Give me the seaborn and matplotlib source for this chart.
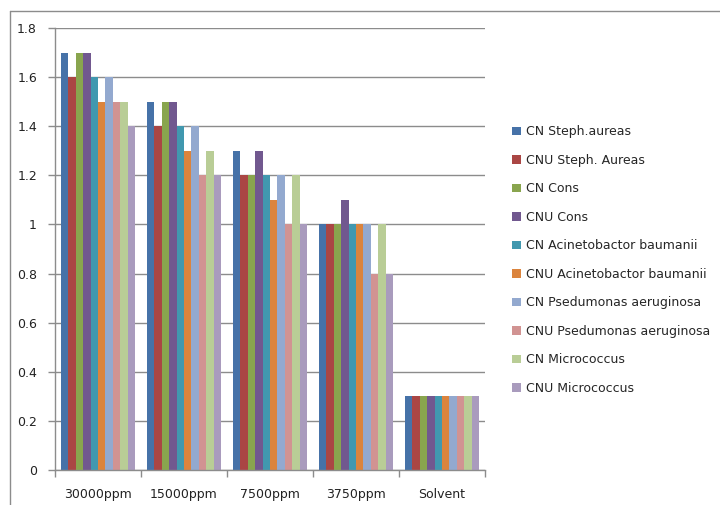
import matplotlib
matplotlib.use("Agg")
import matplotlib.pyplot as plt
from matplotlib.lines import Line2D
from matplotlib.ticker import FixedLocator, FuncFormatter
import numpy as np
import pandas as pd
import seaborn as sns

# Concentrations on the x axis
concentrations = ["30000ppm", "15000ppm", "7500ppm", "3750ppm", "Solvent"]

# One series per extract / organism pair
series_names = [
    "CN Steph.aureas",
    "CNU Steph. Aureas",
    "CN Cons",
    "CNU Cons",
    "CN Acinetobactor baumanii",
    "CNU Acinetobactor baumanii",
    "CN Psedumonas aeruginosa",
    "CNU Psedumonas aeruginosa",
    "CN Micrococcus",
    "CNU Micrococcus",
]

cn_steph = [1.7, 1.5, 1.3, 1.0, 0.3]
cnu_steph = [1.6, 1.4, 1.2, 1.0, 0.3]
cn_cons = [1.7, 1.5, 1.2, 1.0, 0.3]
cnu_cons = [1.7, 1.5, 1.3, 1.1, 0.3]
cn_acineto = [1.6, 1.4, 1.2, 1.0, 0.3]
cnu_acineto = [1.5, 1.3, 1.1, 1.0, 0.3]
cn_pseudo = [1.6, 1.4, 1.2, 1.0, 0.3]
cnu_pseudo = [1.5, 1.2, 1.0, 0.8, 0.3]
cn_micro = [1.5, 1.3, 1.2, 1.0, 0.3]
cnu_micro = [1.4, 1.2, 1.0, 0.8, 0.3]

series_values = [
    cn_steph, cnu_steph, cn_cons, cnu_cons, cn_acineto,
    cnu_acineto, cn_pseudo, cnu_pseudo, cn_micro, cnu_micro,
]

y_ticks = [0, 0.2, 0.4, 0.6, 0.8, 1.0, 1.2, 1.4, 1.6, 1.8]

colors = [
    "#4672A8", "#AA4644", "#89A54E", "#71588F", "#4198AF",
    "#DB843D", "#93A9CF", "#D19392", "#B9CD96", "#A99BBD",
]

rows = []
for name, vals in zip(series_names, series_values):
    for conc, v in zip(concentrations, vals):
        rows.append({"Concentration": conc, "Series": name, "Value": v})
df = pd.DataFrame(rows)

sns.set_theme(style="white")
plt.rcParams["font.family"] = ["DejaVu Sans"]

fig = plt.figure(figsize=(7.2, 5.05), dpi=100)
ax = fig.add_axes([55 / 720, 1 - 470 / 505, 430 / 720, (470 - 28) / 505])

sns.barplot(
    data=df, x="Concentration", y="Value", hue="Series",
    order=concentrations, hue_order=series_names, palette=colors,
    width=0.86, gap=0, saturation=1, linewidth=0, ax=ax, legend=True,
)

grid_col = "#8C8C8C"
ax.set_ylim(0, 1.8)
ax.set_xlim(-0.5, len(concentrations) - 0.5)
ax.set_yticks(y_ticks)
ax.yaxis.set_major_formatter(FuncFormatter(lambda v, p: f"{round(v, 1):g}"))
ax.grid(axis="y", color=grid_col, linewidth=1.0)
ax.set_axisbelow(True)
ax.set_xlabel("")
ax.set_ylabel("")

for side in ["top", "right"]:
    ax.spines[side].set_visible(False)
for side in ["left", "bottom"]:
    ax.spines[side].set_color(grid_col)
    ax.spines[side].set_linewidth(1.0)

ax.tick_params(axis="y", which="major", length=5, color=grid_col, width=1,
               labelsize=9, labelcolor="#222222", pad=8, left=True)
ax.tick_params(axis="x", which="major", length=0, labelsize=9,
               labelcolor="#222222", pad=13)
ax.xaxis.set_minor_locator(FixedLocator(np.arange(-0.5, len(concentrations), 1.0)))
ax.tick_params(axis="x", which="minor", length=5, color=grid_col, width=1,
               bottom=True)

handles, labels = ax.get_legend_handles_labels()
ax.get_legend().remove()
fig.legend(
    handles, labels, loc="center left", bbox_to_anchor=(0.703, 0.485),
    frameon=False, fontsize=9, handlelength=0.7, handleheight=0.7,
    handletextpad=0.4, labelspacing=1.24, borderpad=0,
)

# Chart area border (left and top edges)
fig.add_artist(Line2D([10 / 720, 10 / 720], [0, 1 - 11 / 505],
                      transform=fig.transFigure, color="#8C8C8C", lw=1))
fig.add_artist(Line2D([10 / 720, 1], [1 - 11 / 505, 1 - 11 / 505],
                      transform=fig.transFigure, color="#8C8C8C", lw=1))

fig.savefig("out.png", dpi=100)
